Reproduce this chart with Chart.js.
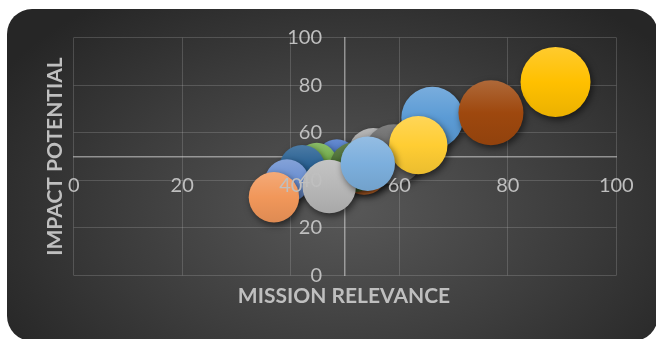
<!DOCTYPE html>
<html>
<head>
<meta charset="utf-8">
<script src="https://cdn.jsdelivr.net/npm/chart.js@4/dist/chart.umd.min.js"></script>
<style>
  html, body { margin: 0; padding: 0; background: #ffffff; }
  #wrap { position: relative; width: 656px; height: 339px; overflow: hidden; }
  #card {
    position: absolute; left: 7px; top: 9px; width: 651px; height: 332px;
    border-radius: 25px;
    background: radial-gradient(ellipse 62% 78% at 52% 60%, #585858 0%, #3d3d3d 55%, #262626 100%);
  }
  #c { position: absolute; left: 0; top: 0; }
</style>
</head>
<body>
<div id="wrap">
  <div id="card"></div>
  <canvas id="c" width="656" height="339"></canvas>
</div>
<script>
// ---- data ----
const seriesNames = ['S1','S2','S3','S4','S5','S6','S8','S9','S11','S12','S13','S14','S15','S16','S17'];
const missionRelevance = [48.5, 53.5, 55.2, 88.8, 66.1, 44.8, 76.9, 59.0, 42.1, 51.8, 39.3, 36.9, 47.1, 63.5, 54.2];
const impactPotential  = [48.9, 44.0, 51.5, 81.4, 66.3, 47.4, 68.4, 51.0, 45.2, 45.6, 39.6, 32.9, 37.4, 54.8, 47.0];
const bubbleSize       = [20,   24,   25,   35,   31,   20,   32.5, 30,   23,   25,   22,   25.2, 26.7, 29.2, 27.2];
const xTicks = [0, 20, 40, 60, 80, 100];
const yTicks = [0, 20, 40, 60, 80, 100];
const xTitle = 'MISSION RELEVANCE';
const yTitle = 'IMPACT POTENTIAL';

// ---- styles ----
const seriesColors = ['#4472C4','#ED7D31','#A5A5A5','#FFC000','#5B9BD5','#70AD47','#9E480E','#636363','#255E91','#43682B','#698ED0','#F1975A','#B7B7B7','#FFCD33','#7CAFDD'];

function mix(hex, target, t) {
  const n = parseInt(hex.slice(1), 16);
  const r = (n >> 16) & 255, g = (n >> 8) & 255, b = n & 255;
  const m = (c) => Math.round(c + (target - c) * t);
  return 'rgb(' + m(r) + ',' + m(g) + ',' + m(b) + ')';
}

function bubbleFill(base) {
  return (ctx) => {
    if (ctx.type !== 'data') return base;
    const chart = ctx.chart;
    const ys = chart.scales && chart.scales.y;
    if (!ys || ys.top === undefined || !ctx.raw) return base;
    const cy = ys.getPixelForValue(ctx.raw.y);
    const r = ctx.raw.r;
    const g = chart.ctx.createLinearGradient(0, cy - r, 0, cy + r);
    g.addColorStop(0, mix(base, 255, 0.18));
    g.addColorStop(0.5, base);
    g.addColorStop(1, mix(base, 0, 0.08));
    return g;
  };
}

const datasets = seriesNames.map((name, i) => ({
  label: name,
  data: [{ x: missionRelevance[i], y: impactPotential[i], r: bubbleSize[i] }],
  backgroundColor: bubbleFill(seriesColors[i]),
  borderWidth: 0,
  order: -i
}));

const shadowPlugin = {
  id: 'bubbleShadow',
  beforeDatasetsDraw(chart) {
    const c = chart.ctx;
    c.save();
    c.shadowColor = 'rgba(0,0,0,0.55)';
    c.shadowBlur = 7;
    c.shadowOffsetX = 2;
    c.shadowOffsetY = 3;
  },
  afterDatasetsDraw(chart) {
    chart.ctx.restore();
  }
};

// y tick labels sit a little left of the crossing axis line (as in the reference)
const yLabelGapPlugin = {
  id: 'yLabelGap',
  beforeDraw(chart) {
    const s = chart.scales.y;
    const items = s.getLabelItems(chart.chartArea);
    if (!items._shifted) {
      items.forEach(it => { it.options.translation[0] -= 23; });
      items._shifted = true;
    }
  }
};

const axisTitlePlugin = {
  id: 'axisTitles',
  afterDraw(chart) {
    const c = chart.ctx;
    const a = chart.chartArea;
    c.save();
    c.fillStyle = '#bfbfbf';
    c.font = 'bold 21px Lato';
    c.textAlign = 'center';
    c.textBaseline = 'middle';
    c.fillText(xTitle, (a.left + a.right) / 2 - 1, a.bottom + 20.5);
    c.translate(a.left - 18.5, (a.top + a.bottom) / 2);
    c.rotate(-Math.PI / 2);
    c.fillText(yTitle, 0, 0);
    c.restore();
  }
};

const gridColor = 'rgba(200,200,200,0.22)';
const tickFont = { family: 'Lato', size: 20 };

new Chart(document.getElementById('c'), {
  type: 'bubble',
  data: { datasets },
  options: {
    responsive: false,
    animation: false,
    events: [],
    layout: { padding: { left: 73.7, right: 39.7, top: 37.7, bottom: 63.6 } },
    plugins: { legend: { display: false }, tooltip: { enabled: false } },
    scales: {
      x: {
        type: 'linear', min: 0, max: 100,
        position: { y: 50 },
        afterBuildTicks: (s) => { s.ticks = xTicks.map(v => ({ value: v })); },
        ticks: { color: '#bfbfbf', font: tickFont, padding: 17, maxRotation: 0, z: 1 },
        grid: { color: gridColor, lineWidth: 1, drawTicks: false },
        border: { color: 'rgba(220,220,220,0.55)', width: 1.5 }
      },
      y: {
        type: 'linear', min: 0, max: 100,
        position: { x: 50 },
        afterBuildTicks: (s) => { s.ticks = yTicks.map(v => ({ value: v })); },
        ticks: { color: '#bfbfbf', font: tickFont, padding: 0, z: 1 },
        grid: { color: gridColor, lineWidth: 1, drawTicks: false },
        border: { color: 'rgba(220,220,220,0.55)', width: 1.5 }
      }
    }
  },
  plugins: [shadowPlugin, yLabelGapPlugin, axisTitlePlugin]
});
</script>
</body>
</html>
